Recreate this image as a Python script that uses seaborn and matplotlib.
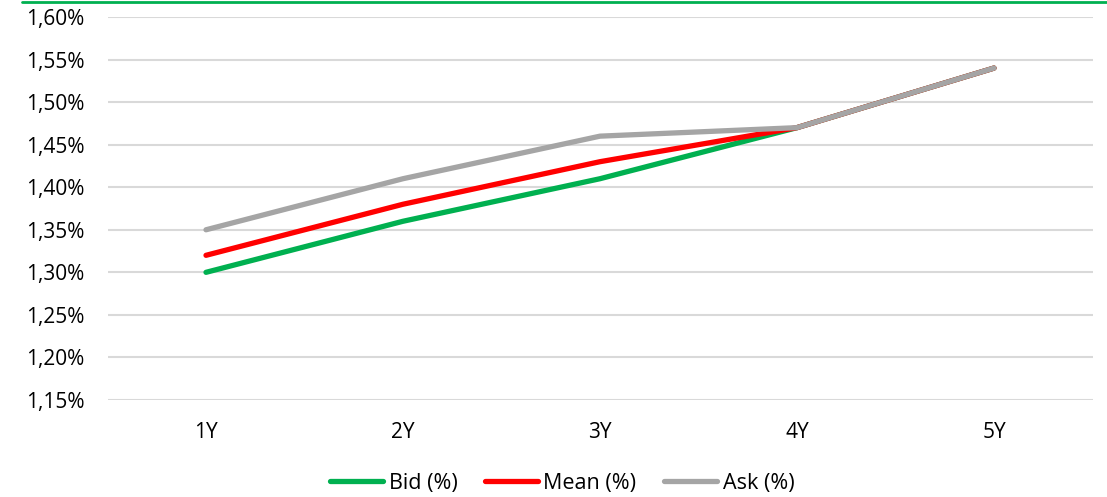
import numpy as np
import pandas as pd
import matplotlib
matplotlib.use("Agg")
import matplotlib.pyplot as plt
from matplotlib.lines import Line2D
from matplotlib.ticker import FuncFormatter
import seaborn as sns

tenors = ["1Y", "2Y", "3Y", "4Y", "5Y"]
bid = [1.30, 1.36, 1.41, 1.47, 1.54]
mean = [1.32, 1.38, 1.43, 1.47, 1.54]
ask = [1.35, 1.41, 1.46, 1.47, 1.54]
series_names = ["Bid (%)", "Mean (%)", "Ask (%)"]
colors = ["#00b050", "#ff0000", "#a5a5a5"]
y_ticks = [1.15, 1.20, 1.25, 1.30, 1.35, 1.40, 1.45, 1.50, 1.55, 1.60]

df = pd.DataFrame({
    "tenor": tenors * 3,
    "pos": list(range(len(tenors))) * 3,
    "value": bid + mean + ask,
    "series": [series_names[0]] * 5 + [series_names[1]] * 5 + [series_names[2]] * 5,
})

sns.set_theme(style="white")
plt.rcParams["font.family"] = ["Open Sans", "DejaVu Sans"]
plt.rcParams["text.color"] = "#000000"

fig = plt.figure(figsize=(11.07, 4.97), dpi=100)
ax = fig.add_axes([107.5 / 1107, 1 - 400 / 497, 985 / 1107, 383 / 497])

sns.lineplot(data=df, x="pos", y="value", hue="series", palette=colors,
             hue_order=series_names, linewidth=3.8, ax=ax, legend=False,
             sort=False)
for line in ax.lines:
    line.set_solid_capstyle("round")
    line.set_solid_joinstyle("round")

ax.set_xlim(-0.5, len(tenors) - 0.5)
ax.set_ylim(1.15, 1.60)
ax.set_yticks(y_ticks)
ax.yaxis.set_major_formatter(FuncFormatter(lambda v, _: f"{v:.2f}".replace(".", ",") + "%"))
ax.set_xticks(range(len(tenors)))
ax.set_xticklabels(tenors)
ax.grid(axis="y", color="#d9d9d9", linewidth=1.5)
ax.set_axisbelow(True)
for s in ax.spines.values():
    s.set_visible(False)
ax.tick_params(axis="y", length=0, pad=16.5, labelsize=15, colors="#000000")
ax.tick_params(axis="x", length=0, pad=16, labelsize=15, colors="#000000")
ax.set_xlabel("")
ax.set_ylabel("")

handles = [Line2D([0], [0], color=c, linewidth=3.8, solid_capstyle="round") for c in colors]
fig.legend(handles, series_names, loc="center", bbox_to_anchor=(0.508, 1 - 483 / 497),
           ncol=3, frameon=False, fontsize=15.5, handlelength=2.45, handletextpad=0.25,
           columnspacing=1.3)

fig.add_artist(Line2D([22 / 1107, 1.0], [1 - 1.5 / 497, 1 - 1.5 / 497],
                      transform=fig.transFigure, color="#00b050", linewidth=2))

fig.savefig("out.png", dpi=100)
